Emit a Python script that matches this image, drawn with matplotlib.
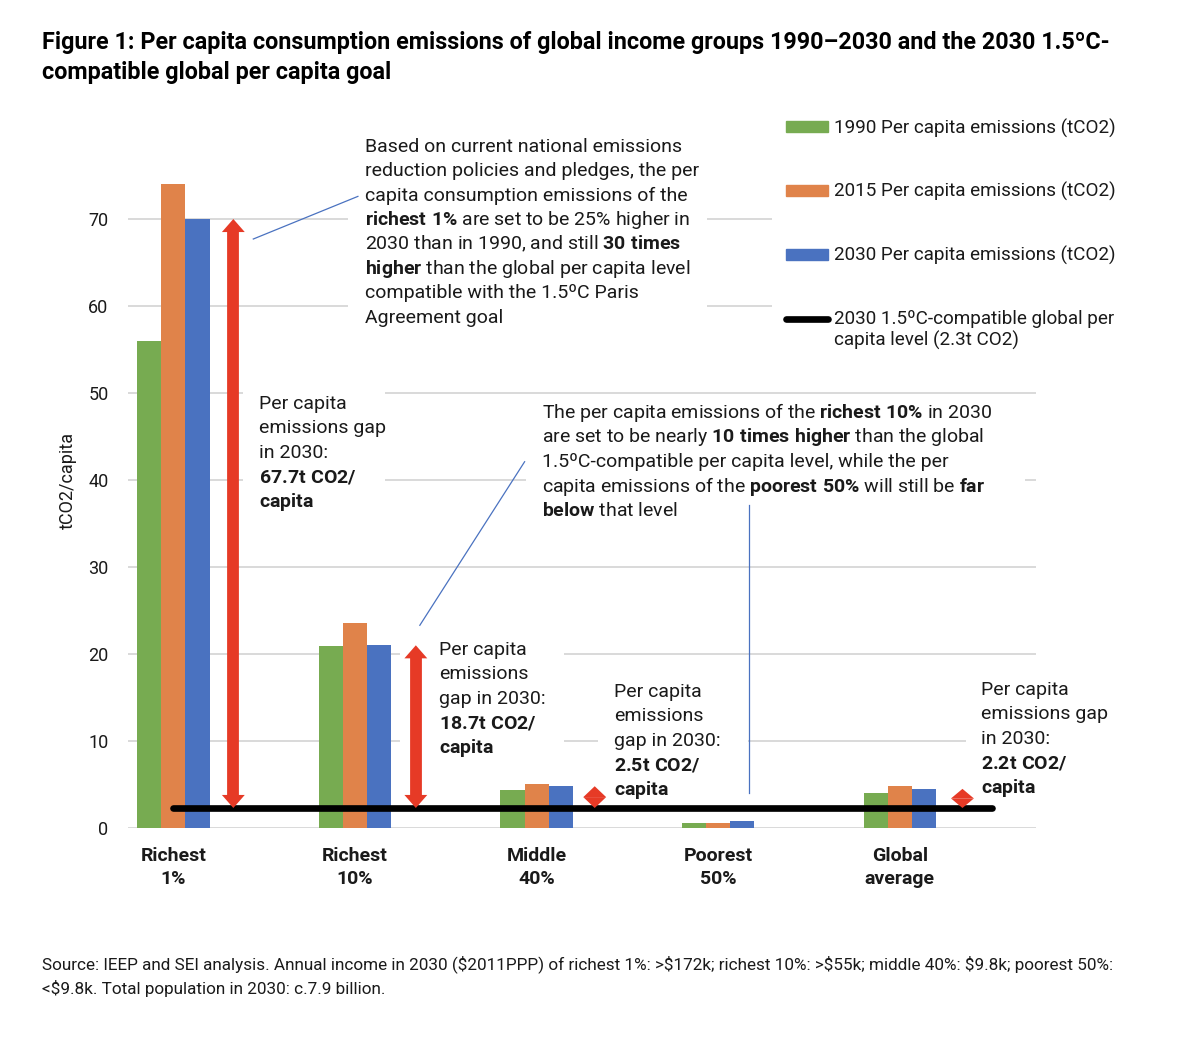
import numpy as np
import matplotlib
matplotlib.use('Agg')
import matplotlib.pyplot as plt
from matplotlib.patches import Patch, Rectangle
from matplotlib.lines import Line2D
from matplotlib.legend_handler import HandlerLine2D

plt.rcParams['font.family'] = ['Roboto', 'DejaVu Sans']
plt.rcParams['mathtext.fontset'] = 'custom'
plt.rcParams['mathtext.rm'] = 'Roboto'
plt.rcParams['mathtext.bf'] = 'Roboto:bold'
plt.rcParams['mathtext.it'] = 'Roboto:italic'

# dati
groups = ['Richest\n1%', 'Richest\n10%', 'Middle\n40%', 'Poorest\n50%', 'Global\naverage']
e1990 = [56.0, 20.9, 4.4, 0.6, 4.0]
e2015 = [74.0, 23.6, 5.1, 0.6, 4.8]
e2030 = [70.0, 21.0, 4.8, 0.8, 4.5]
goal_2030 = 2.3
gap_groups = [0, 1, 2, 4]

series_labels = ['1990 Per capita emissions (tCO2)',
                 '2015 Per capita emissions (tCO2)',
                 '2030 Per capita emissions (tCO2)']
goal_label = '2030 1.5ºC-compatible global per\ncapita level (2.3t CO2)'

green = '#77ab51'
orange = '#e0834a'
blue = '#4a72c0'
red = '#e63a26'
txt = '#1a1a1a'

W, H = 1200, 1038


def px(x, y):
    # pixel dall'alto a sinistra -> coordinate figura
    return x / W, 1 - y / H


def rich(s):
    # **grassetto** -> mathtext
    parts = s.split('**')
    out = ''
    for i, p in enumerate(parts):
        if i % 2 == 1:
            out += r'$\mathbf{' + p.replace(' ', r'\ ').replace('%', r'\%') + '}$'
        else:
            out += p
    return out


def block(text, x, y_base, step, fs=14):
    # una riga alla volta, per avere interlinea regolare
    for i, line in enumerate(text.split('\n')):
        fig.text(*px(x, y_base + i * step), rich(line), fontsize=fs,
                 va='baseline', ha='left', color=txt)


def white_box(x0, y0, x1, y1):
    r = Rectangle(px(x0, y1), (x1 - x0) / W, (y1 - y0) / H,
                  transform=fig.transFigure, facecolor='white',
                  edgecolor='none', zorder=1, clip_on=False)
    ax.add_patch(r)


class TopLine(HandlerLine2D):
    # la linea nera allineata alla prima riga dell'etichetta
    def create_artists(self, legend, orig_handle, xdescent, ydescent,
                       width, height, fontsize, trans):
        arts = super().create_artists(legend, orig_handle, xdescent, ydescent,
                                      width, height, fontsize, trans)
        for a in arts:
            a.set_ydata(np.asarray(a.get_ydata()) + 0.62 * fontsize)
        return arts


fig = plt.figure(figsize=(W / 100, H / 100), dpi=100)
ax = fig.add_axes([128 / W, 1 - 828 / H, 908 / W, 696 / H])

x = np.arange(len(groups))
w = 0.133
ax.bar(x - w, e1990, w, color=green, label=series_labels[0], zorder=2)
ax.bar(x, e2015, w, color=orange, label=series_labels[1], zorder=2)
ax.bar(x + w, e2030, w, color=blue, label=series_labels[2], zorder=2)

ax.set_xlim(-0.25, 4.75)
ax.set_ylim(0, 80)
ax.set_yticks(range(0, 71, 10))
ax.grid(axis='y', color='#d9d9d9', lw=1.4)
ax.set_axisbelow(True)
for s in ax.spines.values():
    s.set_visible(False)
ax.tick_params(length=0, labelsize=13, colors=txt)
ax.tick_params(axis='y', pad=14)
ax.tick_params(axis='x', pad=13.5)
ax.set_xticks(x, groups, fontweight='bold', fontsize=14)
for t in ax.get_xticklabels():
    t.set_linespacing(1.4)
ax.set_ylabel('tCO2/capita', fontsize=13, color=txt, labelpad=8)

# linea obiettivo 1.5C
ax.plot([0, 4.51], [goal_2030, goal_2030], color='black', lw=4.8,
        solid_capstyle='round', zorder=4)

# frecce rosse del divario (asta + due punte)
arrow_dx = [0.33, 0.335, 0.32, 0.345]
head_len = 1.5     # in unita' y
head_half = 0.063  # in unita' x
for g, dx in zip(gap_groups, arrow_dx):
    xa = g + dx
    lo, hi = goal_2030, e2030[g]
    hl = min(head_len, (hi - lo) / 2)
    if hi - lo > 2 * hl:
        ax.plot([xa, xa], [lo + hl, hi - hl], color=red, lw=8.5,
                solid_capstyle='butt', zorder=5)
    ax.fill([xa - head_half, xa + head_half, xa], [hi - hl, hi - hl, hi],
            color=red, lw=0, zorder=5)
    ax.fill([xa - head_half, xa + head_half, xa], [lo + hl, lo + hl, lo],
            color=red, lw=0, zorder=5)

# linee di richiamo
ax.plot([0.44, 1.016], [67.7, 72.6], color=blue, lw=0.9, zorder=3)
ax.plot([1.357, 1.934], [23.3, 42.1], color=blue, lw=0.9, zorder=3)
ax.plot([3.17, 3.17], [4.0, 37.1], color=blue, lw=0.9, zorder=3)

# sfondi bianchi delle caselle di testo
white_box(348, 132, 707, 330)
white_box(243, 385, 385, 515)
white_box(526, 398, 1025, 520)
white_box(400, 632, 564, 760)
white_box(598, 676, 748, 800)
white_box(966, 674, 1040, 800)

note1 = ('Based on current national emissions\n'
         'reduction policies and pledges, the per\n'
         'capita consumption emissions of the\n'
         '**richest 1%** are set to be 25% higher in\n'
         '2030 than in 1990, and still **30 times**\n'
         '**higher** than the global per capita level\n'
         'compatible with the 1.5ºC Paris\n'
         'Agreement goal')
block(note1, 365, 152, 24.4)

note2 = ('The per capita emissions of the **richest 10%** in 2030\n'
         'are set to be nearly **10 times higher** than the global\n'
         '1.5ºC-compatible per capita level, while the per\n'
         'capita emissions of the **poorest 50%** will still be **far**\n'
         '**below** that level')
block(note2, 542, 418, 24.5)

gap_heads = ['Per capita\nemissions gap\nin 2030:',
             'Per capita\nemissions\ngap in 2030:',
             'Per capita\nemissions\ngap in 2030:',
             'Per capita\nemissions gap\nin 2030:']
gap_pos = [(259, 409), (439, 655), (614, 697), (981, 695)]
for g, head, (gx, gy) in zip(gap_groups, gap_heads, gap_pos):
    gap = e2030[g] - goal_2030
    s = head + '\n**%.1ft CO2/**\n**capita**' % gap
    block(s, gx, gy, 24.4)

# legenda
goal_handle = Line2D([], [], color='black', lw=4.8, solid_capstyle='round')
handles = [Patch(color=green), Patch(color=orange), Patch(color=blue), goal_handle]
labels = series_labels + [goal_label]
leg = fig.legend(handles, labels, loc='upper left',
                 bbox_to_anchor=px(763, 95), fontsize=13.6,
                 frameon=True, edgecolor='none', facecolor='white', framealpha=1,
                 handlelength=2.22, handleheight=0.55, handletextpad=0.3,
                 labelspacing=2.36, borderpad=0.74,
                 handler_map={goal_handle: TopLine()})
for t in leg.get_texts():
    t.set_color(txt)

# titolo
fig.text(*px(42, 31), 'Figure 1: Per capita consumption emissions of global income groups '
         '1990–2030 and the 2030 1.5ºC-\ncompatible global per capita goal',
         fontsize=16.8, fontweight='bold', va='top', ha='left', color='black',
         linespacing=1.4)

# fonte
fig.text(*px(42, 955), 'Source: IEEP and SEI analysis. Annual income in 2030 ($2011PPP) of '
         'richest 1%: >$172k; richest 10%: >$55k; middle 40%: $9.8k; poorest 50%:\n'
         '<$9.8k. Total population in 2030: c.7.9 billion.',
         fontsize=12.35, va='top', ha='left', color=txt, linespacing=1.5,
         parse_math=False)

fig.savefig('out.png', dpi=100, facecolor='white')
